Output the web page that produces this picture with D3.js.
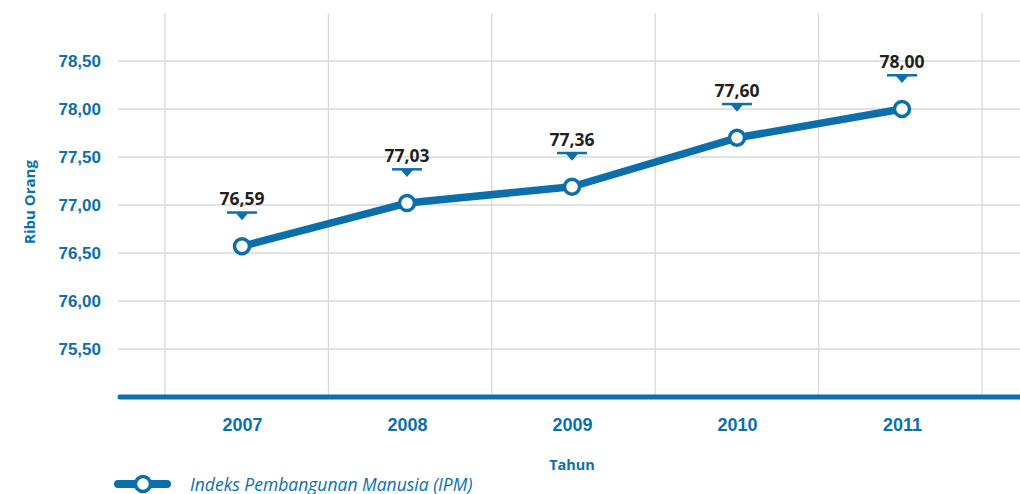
<!DOCTYPE html>
<html>
<head>
<meta charset="utf-8">
<script src="https://cdn.jsdelivr.net/npm/d3@7"></script>
<style>
  body { margin: 0; background: #fff; }
  svg { display: block; font-family: "Open Sans", sans-serif; }
</style>
</head>
<body>
<div id="chart"></div>
<script>
// data
const years = ['2007', '2008', '2009', '2010', '2011'];
const ipm = [76.57, 77.02, 77.19, 77.70, 78.00];          // plotted positions
const ipmLabels = ['76,59', '77,03', '77,36', '77,60', '78,00']; // printed labels
const yTicks = [75.5, 76, 76.5, 77, 77.5, 78, 78.5];

const blue = '#0b6fab';
const width = 1020, height = 494;
const svg = d3.select('#chart').append('svg').attr('width', width).attr('height', height);

const band = d3.scaleBand().domain(years).range([165, 982]);
const x = d3.scalePoint().domain(years).range([242, 902]);
const y = d3.scaleLinear().domain([75, 79]).range([397, 13]);

// grid
const grid = svg.append('g').attr('stroke', '#d9d9d9').attr('stroke-width', 1.3);
grid.selectAll('line.h').data(yTicks).join('line')
  .attr('x1', 118).attr('x2', width)
  .attr('y1', d => y(d)).attr('y2', d => y(d));
const edges = years.map(d => band(d)).concat([band.range()[1]]);
grid.selectAll('line.v').data(edges).join('line')
  .attr('x1', d => d).attr('x2', d => d)
  .attr('y1', y(79)).attr('y2', y(75));

// y axis labels
const yAxis = svg.append('g').attr('transform', 'translate(101,0)')
  .call(d3.axisLeft(y).tickValues(yTicks).tickSize(0).tickPadding(0)
    .tickFormat(d => d3.format('.2f')(d).replace('.', ',')));
yAxis.select('.domain').remove();
yAxis.selectAll('text').attr('fill', blue).style('font-size', '17px').style('font-weight', 600);

// baseline
svg.append('line').attr('x1', 120).attr('x2', width + 5).attr('y1', y(75)).attr('y2', y(75))
  .attr('stroke', blue).attr('stroke-width', 5).attr('stroke-linecap', 'round');

// x axis labels
const xAxis = svg.append('g').attr('transform', `translate(0,${y(75)})`)
  .call(d3.axisBottom(x).tickSize(0).tickPadding(21));
xAxis.select('.domain').remove();
xAxis.selectAll('text').attr('fill', blue).style('font-size', '18px').style('font-weight', 700);

// axis titles
svg.append('text').attr('transform', 'translate(35,202) rotate(-90)')
  .attr('text-anchor', 'middle').attr('fill', blue)
  .style('font-size', '15px').style('font-weight', 700).text('Ribu Orang');
svg.append('text').attr('x', 572).attr('y', 470)
  .attr('text-anchor', 'middle').attr('fill', blue)
  .style('font-size', '14.5px').style('font-weight', 700).text('Tahun');

// line
const line = d3.line().x((d, i) => x(years[i])).y(d => y(d));
svg.append('path').datum(ipm).attr('d', line)
  .attr('fill', 'none').attr('stroke', blue).attr('stroke-width', 7.5).attr('stroke-linejoin', 'round');

svg.selectAll('circle.pt').data(ipm).join('circle').attr('class', 'pt')
  .attr('cx', (d, i) => x(years[i])).attr('cy', d => y(d)).attr('r', 7.5)
  .attr('fill', '#fff').attr('stroke', blue).attr('stroke-width', 3.5);

// value labels with marker
const lab = svg.selectAll('g.lab').data(ipm).join('g').attr('class', 'lab')
  .attr('transform', (d, i) => `translate(${x(years[i])},${y(d)})`);
lab.append('rect').attr('x', -15).attr('y', -35).attr('width', 30).attr('height', 2.5).attr('fill', blue);
lab.append('path').attr('d', 'M-6,-33 L6,-33 L0,-26 Z').attr('fill', blue);
lab.append('text').attr('y', -41).attr('text-anchor', 'middle').attr('fill', '#231f20')
  .style('font-size', '17.5px').style('font-weight', 700)
  .text((d, i) => ipmLabels[i]);

// legend
const lg = svg.append('g').attr('transform', 'translate(0,484)');
lg.append('line').attr('x1', 118).attr('x2', 167).attr('stroke', blue)
  .attr('stroke-width', 8).attr('stroke-linecap', 'round');
lg.append('circle').attr('cx', 143).attr('r', 7.5).attr('fill', '#fff').attr('stroke', blue).attr('stroke-width', 3.5);
lg.append('text').attr('x', 190).attr('y', 6.5).attr('fill', blue)
  .style('font-size', '17.5px').style('font-style', 'italic').text('Indeks Pembangunan Manusia (IPM)');
</script>
</body>
</html>
